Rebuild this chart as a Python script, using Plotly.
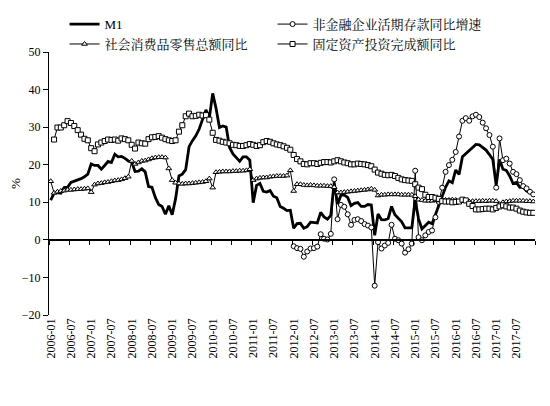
import numpy as np
import pandas as pd
import plotly.graph_objects as go

months = pd.date_range('2006-01-01', periods=144, freq='MS').strftime('%Y-%m').tolist()

m1 = [
    10.6, 12.4, 12.6, 12.4, 13.9, 14.0, 15.3, 15.6, 16.0, 16.3, 16.8, 17.5,
    20.2, 19.8, 19.8, 18.8, 19.8, 20.9, 20.6, 22.8, 22.1, 22.2, 21.7, 21.0,
    20.7, 18.2, 18.3, 18.9, 18.1, 14.2, 14.0, 11.3, 9.4, 8.9, 6.8, 9.1,
    6.7, 10.9, 17.0, 17.5, 18.7, 24.8, 26.4, 27.7, 29.5, 32.0, 34.6, 32.4,
    39.0, 35.0, 29.9, 30.3, 30.0, 24.6, 22.9, 21.9, 20.9, 22.1, 22.1, 21.2,
    9.9, 14.5, 15.0, 12.9, 12.7, 13.1, 11.6, 11.2, 8.9, 8.4, 7.8, 7.9,
    3.1, 4.3, 4.4, 3.1, 3.5, 4.7, 4.6, 4.5, 7.3, 6.1, 5.5, 6.5,
    15.3, 9.5, 11.9, 11.9, 11.3, 9.1, 9.7, 9.9, 8.9, 8.9, 9.4, 9.3,
    1.2, 6.9, 5.4, 5.3, 5.7, 8.9, 6.7, 5.7, 4.8, 3.2, 3.2, 3.2,
    10.6, 5.6, 2.9, 3.7, 4.7, 4.3, 6.6, 9.3, 11.4, 14.0, 15.7, 15.2,
    18.6, 17.4, 22.1, 22.9, 23.7, 24.6, 25.4, 25.3, 24.7, 23.9, 22.7, 21.4,
    14.5, 21.4, 18.8, 18.5, 17.0, 15.0, 15.3, 14.0, 14.0, 13.0, 12.7, 11.8,
]

# 非金融企业活期存款, only from 2012
deposits = [None] * 72 + [
    -1.7, -2.2, -2.4, -4.5, -3.1, -2.3, -2.2, -1.8, 1.5, 0.3, 0.1, 1.6,
    16.1, 5.5, 9.3, 8.8, 6.8, 4.0, 5.3, 5.5, 5.0, 4.2, 3.8, 3.3,
    -12.2, -0.6, -2.3, -1.5, -0.8, 4.0, 0.3, -0.1, -1.0, -3.4, -2.5, -1.0,
    18.4, 0.7, -0.1, 1.2, 2.1, 2.5, 6.0, 10.1, 13.9, 18.1, 19.9, 21.3,
    23.4, 27.5, 31.7, 32.4, 31.7, 32.9, 33.3, 32.7, 31.2, 29.7, 27.9, 24.8,
    13.9, 27.0, 21.2, 21.6, 20.3, 18.1, 17.5, 15.9, 14.3, 13.7, 12.8, 12.1,
]

retail = [
    15.6, 12.5, 12.8, 13.0, 13.1, 13.3, 13.3, 13.4, 13.5, 13.5, 13.6, 13.7,
    12.7, 14.7, 15.0, 15.1, 15.3, 15.4, 15.6, 15.8, 15.9, 16.1, 16.4, 16.8,
    21.0, 20.2, 20.6, 21.0, 21.1, 21.4, 21.7, 21.9, 22.0, 22.0, 21.9, 19.0,
    15.9, 15.2, 15.0, 14.9, 15.0, 15.0, 15.1, 15.2, 15.3, 15.4, 15.6, 16.3,
    13.9, 18.0, 18.1, 18.2, 18.2, 18.2, 18.3, 18.3, 18.4, 18.4, 18.5, 18.8,
    15.9, 16.3, 16.5, 16.6, 16.6, 16.8, 16.9, 17.0, 17.0, 17.0, 17.1, 18.5,
    13.0, 14.8, 14.8, 14.6, 14.5, 14.6, 14.5, 14.4, 14.4, 14.4, 14.3, 14.3,
    14.0, 12.6, 12.6, 12.7, 12.8, 12.9, 13.0, 13.1, 13.2, 13.3, 13.4, 13.6,
    13.3, 11.8, 12.0, 12.0, 12.1, 12.1, 12.1, 12.1, 12.0, 12.0, 12.0, 12.0,
    11.6, 10.7, 10.6, 10.4, 10.4, 10.4, 10.5, 10.5, 10.5, 10.6, 10.6, 10.7,
    10.6, 10.2, 10.3, 10.3, 10.2, 10.3, 10.3, 10.3, 10.4, 10.3, 10.4, 10.4,
    10.3, 9.5, 10.0, 10.2, 10.3, 10.4, 10.4, 10.4, 10.4, 10.3, 10.3, 10.2,
]

fai = [
    None, 26.7, 29.9, 29.9, 30.5, 31.6, 31.1, 30.3, 29.2, 28.0, 26.9, 26.5,
    24.4, 23.6, 25.4, 25.9, 26.3, 26.7, 26.6, 26.7, 26.4, 27.0, 26.8, 26.5,
    25.3, 24.3, 25.9, 25.7, 25.6, 26.8, 27.3, 27.4, 27.6, 27.2, 26.8, 26.5,
    26.3, 26.5, 28.8, 30.5, 32.9, 33.6, 32.9, 33.0, 33.3, 33.1, 33.2, 32.0,
    28.5, 26.6, 26.4, 26.1, 25.9, 25.7, 25.3, 25.2, 25.0, 25.0, 25.2, 25.5,
    25.3, 25.0, 25.2, 26.0, 26.3, 26.1, 25.7, 25.4, 25.2, 24.9, 24.5, 24.0,
    22.6, 21.5, 20.9, 20.2, 20.1, 20.4, 20.4, 20.2, 20.5, 20.7, 20.7, 20.6,
    20.9, 21.2, 20.9, 20.6, 20.4, 20.1, 20.1, 20.3, 20.2, 20.1, 19.9, 19.6,
    18.7, 17.9, 17.6, 17.3, 17.2, 17.3, 17.0, 16.5, 16.1, 15.9, 15.8, 15.7,
    14.8, 13.9, 13.5, 12.0, 11.4, 11.4, 11.2, 10.9, 10.3, 10.2, 10.2, 10.0,
    10.1, 10.2, 10.7, 10.5, 9.6, 9.0, 8.1, 8.1, 8.2, 8.3, 8.3, 8.1,
    8.5, 8.9, 9.2, 8.9, 8.6, 8.6, 8.3, 7.8, 7.5, 7.3, 7.2, 7.2,
]

FONT = 'Liberation Serif, Noto Serif CJK SC, Noto Sans CJK SC, serif'
x = np.arange(len(months))

def marker_trace(y, name, symbol, size, gaps=True):
    return go.Scatter(
        x=x, y=y, name=name, mode='lines+markers',
        line=dict(color='black', width=1),
        marker=dict(symbol=symbol, size=size, color='white',
                    line=dict(color='black', width=1)),
        connectgaps=gaps,
    )

fig = go.Figure()
fig.add_trace(go.Scatter(x=x, y=m1, name='M1', mode='lines',
                         line=dict(color='black', width=2.8)))
fig.add_trace(marker_trace(deposits, '非金融企业活期存款同比增速', 'circle', 5, gaps=False))
fig.add_trace(marker_trace(retail, '社会消费品零售总额同比', 'triangle-up', 5))
fig.add_trace(marker_trace(fai, '固定资产投资完成额同比', 'square', 5))

# helper axis on the zero line carrying the tick marks
fig.add_trace(go.Scatter(x=x, y=[None] * len(x), xaxis='x2', showlegend=False,
                         hoverinfo='skip'))

# page body adds an 8px offset, margins are set against that
xr = [-0.5, len(months) - 0.5]
fig.update_layout(
    width=550, height=406,
    margin=dict(l=41, r=23, t=44, b=99, autoexpand=False),
    paper_bgcolor='white', plot_bgcolor='white',
    font=dict(family=FONT, size=12, color='black'),
    showlegend=True,
    legend=dict(orientation='h', x=0.032, y=1.163, xanchor='left', yanchor='top',
                entrywidth=163, entrywidthmode='pixels', itemwidth=30,
                font=dict(family=FONT, size=13), traceorder='normal',
                bgcolor='rgba(0,0,0,0)'),
    xaxis=dict(range=xr, tickmode='array', tickvals=x[::6].tolist(),
               ticktext=months[::6], tickangle=-90, ticks='', showline=False,
               showgrid=False, zeroline=False, tickfont=dict(size=12),
               automargin=False),
    xaxis2=dict(range=xr, overlaying='x', anchor='free', position=20 / 70,
                side='bottom', tickmode='array',
                tickvals=(np.arange(0, len(months) + 1, 6) - 0.5).tolist(),
                showticklabels=False, ticks='outside', ticklen=4,
                tickcolor='black', tickwidth=1, showline=True,
                linecolor='black', linewidth=1.5, showgrid=False,
                zeroline=False, automargin=False),
    yaxis=dict(range=[-20, 50], dtick=10, ticks='outside', ticklen=5,
               tickcolor='black', showline=True, linecolor='black',
               linewidth=1, showgrid=False, zeroline=False,
               title=dict(text='%', standoff=0, font=dict(size=13)),
               tickfont=dict(size=12), automargin=False),
)

fig.write_html('out.html')
